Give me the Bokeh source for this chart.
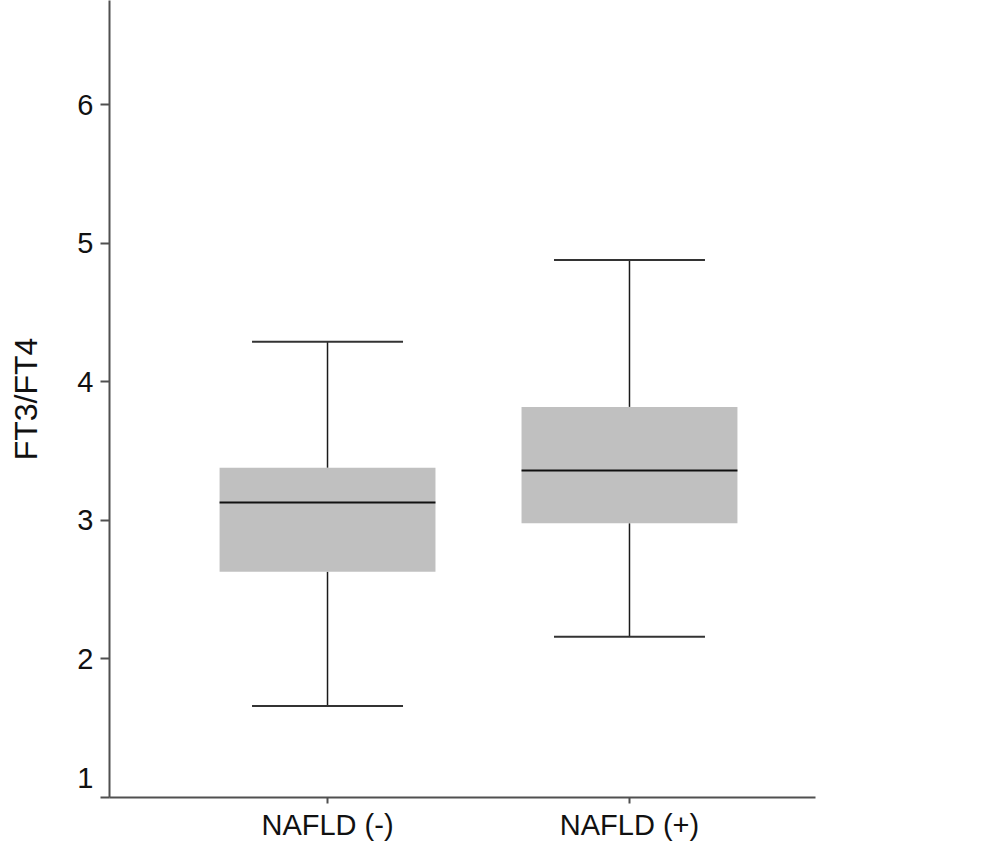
from bokeh.plotting import figure
from bokeh.models import Range1d, FixedTicker, ColumnDataSource
from bokeh.embed import file_html
from bokeh.resources import INLINE

# ---- data ----
groups = ["NAFLD (-)", "NAFLD (+)"]
lower_whisker = [1.66, 2.16]
q1 = [2.63, 2.98]
median = [3.13, 3.36]
q3 = [3.38, 3.82]
upper_whisker = [4.29, 4.88]
y_ticks = [1, 2, 3, 4, 5, 6]

xpos = list(range(1, len(groups) + 1))
box_w = 0.715
cap_w = 0.5

src = ColumnDataSource(dict(
    x=xpos, lo=lower_whisker, q1=q1, med=median, q3=q3, hi=upper_whisker,
    bl=[x - box_w / 2 for x in xpos], br=[x + box_w / 2 for x in xpos],
    cl=[x - cap_w / 2 for x in xpos], cr=[x + cap_w / 2 for x in xpos],
))

FONT = "Liberation Sans"

p = figure(
    output_backend="svg", toolbar_location=None,
    frame_width=706, frame_height=797,
    min_border_left=109, min_border_top=0, min_border_right=20, min_border_bottom=48,
    x_range=Range1d(0.278, 2.616), y_range=Range1d(1, 6.754),
)
p.outline_line_color = None
p.grid.visible = False
p.background_fill_color = "white"
p.border_fill_color = "white"

# whiskers
p.segment(x0="x", y0="q3", x1="x", y1="hi", source=src, line_color="#1a1a1a", line_width=1.5)
p.segment(x0="x", y0="lo", x1="x", y1="q1", source=src, line_color="#1a1a1a", line_width=1.5)
# caps
p.segment(x0="cl", y0="hi", x1="cr", y1="hi", source=src, line_color="#333333", line_width=2)
p.segment(x0="cl", y0="lo", x1="cr", y1="lo", source=src, line_color="#333333", line_width=2)
# boxes
p.vbar(x="x", width=box_w, bottom="q1", top="q3", source=src,
       fill_color="#c0c0c0", line_color=None)
# median
p.segment(x0="bl", y0="med", x1="br", y1="med", source=src, line_color="#111111", line_width=2)

# axes
for ax in (p.xaxis[0], p.yaxis[0]):
    ax.axis_line_color = "#505050"
    ax.axis_line_width = 2
    ax.major_tick_line_color = "#505050"
    ax.major_tick_line_width = 2
    ax.minor_tick_line_color = None
    ax.major_label_text_font = FONT
    ax.major_label_text_font_size = "29px"
    ax.major_label_text_color = "#111111"
    ax.axis_label_text_font = FONT
    ax.axis_label_text_font_style = "normal"
    ax.axis_label_text_color = "#111111"

p.xaxis.ticker = FixedTicker(ticks=xpos)
p.xaxis.major_label_overrides = {x: g for x, g in zip(xpos, groups)}
p.xaxis.major_tick_in = 0
p.xaxis.major_tick_out = 6
p.xaxis.major_label_standoff = 5

p.yaxis.ticker = FixedTicker(ticks=y_ticks)
# the lowest label sits raised above its tick in the reference
p.yaxis.major_label_overrides = {y_ticks[0]: str(y_ticks[0]) + "\n "}
p.yaxis.major_tick_in = 0
p.yaxis.major_tick_out = 9
p.yaxis.major_label_standoff = 7
p.yaxis.axis_label = "FT3/FT4"
p.yaxis.axis_label_text_font_size = "32px"
p.yaxis.axis_label_standoff = 30

open("out.html", "w").write(file_html(p, INLINE))
